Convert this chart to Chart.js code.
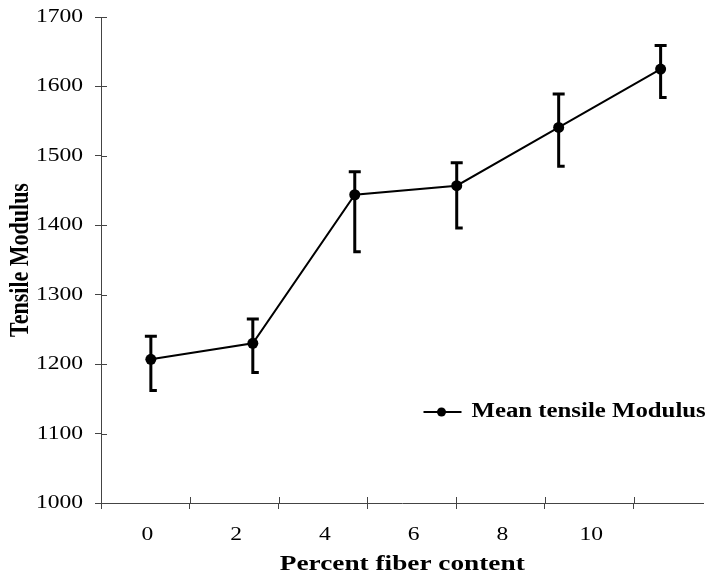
<!DOCTYPE html>
<html>
<head>
<meta charset="utf-8">
<script src="https://cdn.jsdelivr.net/npm/chart.js@4/dist/chart.umd.min.js"></script>
<style>
  html, body { margin: 0; padding: 0; background: #fff; }
</style>
</head>
<body>
<canvas id="modulusChart" width="709" height="577"></canvas>
<script>
// valores
const fiberLabels = ['0', '2', '4', '6', '8', '10'];
const fiberContent = [0, 2, 4, 6, 8, 10];
const meanModulus = [1207, 1230, 1444, 1457, 1541, 1625];
const errTop = [1240, 1265, 1477, 1490, 1589, 1659];
const errBottom = [1162, 1188, 1362, 1396, 1485, 1584];
const yTicks = [1000, 1100, 1200, 1300, 1400, 1500, 1600, 1700];

const serif = '"Liberation Serif", "Times New Roman", serif';
const axisColor = '#444';
const stretch = 1.24; // el original esta estirado en horizontal

// texto estirado en horizontal como en la imagen original
function stretchedText(ctx, text, x, y, font, align, rotate) {
  ctx.save();
  ctx.translate(x, y);
  ctx.scale(stretch, 1);
  if (rotate) ctx.rotate(-Math.PI / 2);
  ctx.font = font;
  ctx.textAlign = align;
  ctx.textBaseline = 'middle';
  ctx.fillStyle = '#000';
  ctx.fillText(text, 0, 0);
  ctx.restore();
}

// Barras de error: tapa superior completa, tapa inferior solo a la derecha
const errorBars = {
  id: 'errorBars',
  beforeDatasetsDraw(chart) {
    const ctx = chart.ctx;
    const xs = chart.scales.xd;
    const ys = chart.scales.y;
    ctx.save();
    ctx.strokeStyle = '#000';
    ctx.lineWidth = 3;
    fiberContent.forEach((v, i) => {
      const x = xs.getPixelForValue(v);
      const yT = ys.getPixelForValue(errTop[i]);
      const yB = ys.getPixelForValue(errBottom[i]);
      ctx.beginPath();
      ctx.moveTo(x, yT);
      ctx.lineTo(x, yB);
      ctx.moveTo(x - 6, yT);
      ctx.lineTo(x + 6, yT);
      ctx.moveTo(x - 1.5, yB);
      ctx.lineTo(x + 6, yB);
      ctx.stroke();
    });
    ctx.restore();
  }
};

// Marcas cruzadas, etiquetas, titulos y leyenda
const axisExtras = {
  id: 'axisExtras',
  afterDraw(chart) {
    const ctx = chart.ctx;
    const area = chart.chartArea;
    const ys = chart.scales.y;
    const xs = chart.scales.x;
    ctx.save();
    ctx.strokeStyle = axisColor;
    ctx.lineWidth = 1;
    ctx.beginPath();
    yTicks.forEach(t => {
      const y = Math.round(ys.getPixelForValue(t)) + 0.5;
      ctx.moveTo(area.left, y);
      ctx.lineTo(area.left + 6, y);
    });
    for (let i = 1; i <= fiberLabels.length; i++) {
      const x = Math.round(xs.getPixelForValue(i)) + 0.5;
      ctx.moveTo(x, area.bottom);
      ctx.lineTo(x, area.bottom - 6);
    }
    ctx.stroke();
    ctx.restore();

    const tickFont = '19px ' + serif;
    const titleFont = 'bold 22px ' + serif;

    yTicks.forEach(t => {
      stretchedText(ctx, String(t), area.left - 18, ys.getPixelForValue(t), tickFont, 'right');
    });
    fiberLabels.forEach((l, i) => {
      stretchedText(ctx, l, xs.getPixelForValue(i + 0.5) + 2, area.bottom + 32, tickFont, 'center');
    });

    stretchedText(ctx, 'Percent fiber content', (area.left + area.right) / 2, area.bottom + 61, titleFont, 'center');
    stretchedText(ctx, 'Tensile Modulus', 21, (area.top + area.bottom) / 2, titleFont, 'center', true);

    // leyenda
    const lx = area.right - 280;
    const ly = ys.getPixelForValue(1000) - 91;
    ctx.save();
    ctx.strokeStyle = '#000';
    ctx.fillStyle = '#000';
    ctx.lineWidth = 2;
    ctx.beginPath();
    ctx.moveTo(lx, ly);
    ctx.lineTo(lx + 38, ly);
    ctx.stroke();
    ctx.beginPath();
    ctx.arc(lx + 18, ly, 4.5, 0, Math.PI * 2);
    ctx.fill();
    ctx.restore();
    stretchedText(ctx, chart.data.datasets[0].label, lx + 48, ly, 'bold 20px ' + serif, 'left');
  }
};

const ctx = document.getElementById('modulusChart').getContext('2d');

new Chart(ctx, {
  type: 'line',
  data: {
    datasets: [{
      label: 'Mean tensile Modulus',
      data: fiberContent.map((x, i) => ({ x: x, y: meanModulus[i] })),
      xAxisID: 'xd',
      yAxisID: 'y',
      borderColor: '#000',
      backgroundColor: '#000',
      borderWidth: 2,
      pointRadius: 5.5,
      pointBackgroundColor: '#000',
      pointBorderWidth: 0,
      tension: 0
    }]
  },
  options: {
    responsive: false,
    animation: false,
    layout: {
      padding: { top: 17, right: 4, left: 0, bottom: 0 }
    },
    plugins: {
      legend: { display: false },
      tooltip: { enabled: false }
    },
    scales: {
      // eje oculto para los datos
      xd: {
        type: 'linear',
        display: false,
        min: -0.978,
        max: 10.841
      },
      // eje visible de etiquetas (categorias de 89 px)
      x: {
        type: 'linear',
        position: 'bottom',
        min: 0,
        max: 604 / 89,
        afterBuildTicks: (scale) => {
          scale.ticks = fiberLabels.map((l, i) => ({ value: i + 0.5 }));
        },
        afterFit: (scale) => { scale.height = 74; },
        ticks: { display: false },
        grid: {
          offset: true,
          drawOnChartArea: false,
          tickLength: 6,
          color: axisColor
        },
        border: { display: true, color: axisColor, width: 1 }
      },
      y: {
        type: 'linear',
        min: 1000,
        max: 1700,
        afterBuildTicks: (scale) => {
          scale.ticks = yTicks.map(v => ({ value: v }));
        },
        afterFit: (scale) => { scale.width = 101; },
        ticks: { display: false },
        grid: {
          drawOnChartArea: false,
          tickLength: 6,
          color: axisColor
        },
        border: { display: true, color: axisColor, width: 1 }
      }
    }
  },
  plugins: [errorBars, axisExtras]
});
</script>
</body>
</html>
